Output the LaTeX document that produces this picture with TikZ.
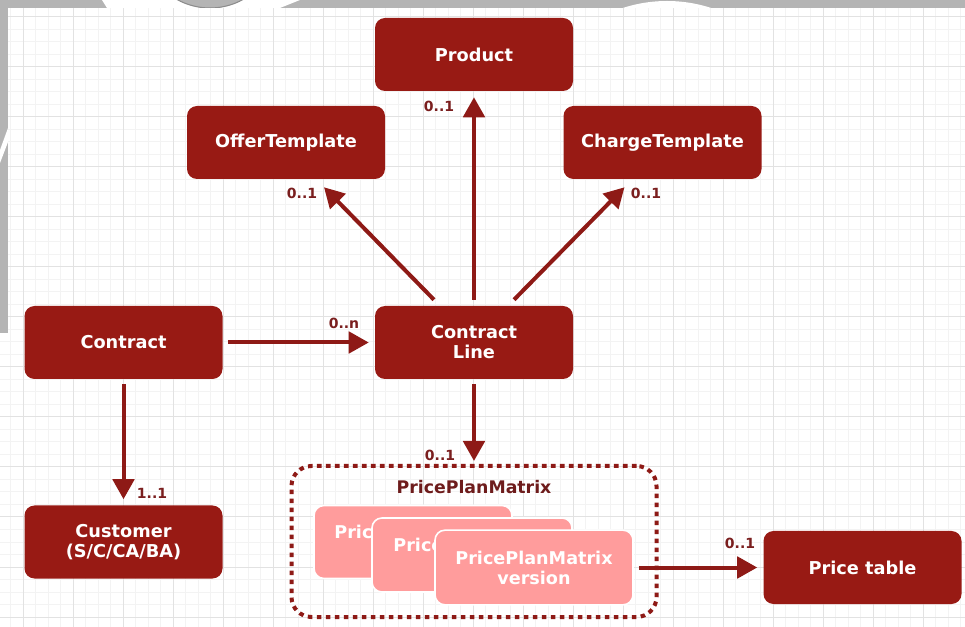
\documentclass[tikz,border=0pt]{standalone}
\usepackage{fontspec}
\setmainfont{DejaVu Sans}
\usetikzlibrary{arrows.meta,calc}
\definecolor{boxred}{HTML}{981A14}
\definecolor{arrred}{HTML}{8E1A16}
\definecolor{lblred}{HTML}{7A1E1E}
\definecolor{ppmlbl}{HTML}{6E1C1C}
\definecolor{pinkbox}{HTML}{FF9C9C}
\definecolor{gridminor}{HTML}{F3F3F3}
\definecolor{gridmajor}{HTML}{E2E2E2}
\definecolor{band}{HTML}{B4B4B4}
\definecolor{bandedge}{HTML}{8C8C8C}
\begin{document}
\begin{tikzpicture}[x=0.75pt,y=-0.75pt,
  entity/.style={fill=boxred, rounded corners=7.5pt, text=white,
    font=\bfseries\fontsize{13.3}{15}\selectfont, align=center, inner sep=0pt,
    minimum width=148.5pt, minimum height=54.75pt},
  pinkent/.style={fill=pinkbox, draw=white, line width=1.2pt, rounded corners=7.5pt, text=white,
    font=\bfseries\fontsize{13.2}{15}\selectfont, align=center, inner sep=0pt,
    minimum width=148.5pt, minimum height=54.75pt},
  arr/.style={draw=arrred, line width=3pt, -{Triangle[length=15pt,width=16pt]}},
  mult/.style={text=lblred, font=\bfseries\fontsize{10.5}{12}\selectfont, inner sep=0pt},
  container/.style={draw=arrred, line width=3pt, dash pattern=on 3.4pt off 3.35pt,
    rounded corners=15pt, minimum width=273.75pt, minimum height=113.25pt, inner sep=0pt}
]
\useasboundingbox (0,0) rectangle (965,627);
% background grid
\fill[white] (0,0) rectangle (965,627);
\foreach \k in {0,...,77} \draw[gridminor, line width=0.75pt] ({10.5+12.5*\k},0) -- ({10.5+12.5*\k},627);
\foreach \k in {0,...,50} \draw[gridminor, line width=0.75pt] (0,{4.5+12.5*\k}) -- (965,{4.5+12.5*\k});
\foreach \k in {-1,0,...,19} \draw[gridmajor, line width=0.75pt] ({23+50*\k},0) -- ({23+50*\k},627);
\foreach \k in {0,...,12} \draw[gridmajor, line width=0.75pt] (0,{17+50*\k}) -- (965,{17+50*\k});
% grey screen bands
\fill[band] (0,0) rectangle (965,8);
\fill[band] (0,0) rectangle (8,333);
\fill[white] (0,150) -- (8,128) -- (8,142) -- (0,163) -- cycle;
\begin{scope}
  \clip (0,0) rectangle (965,8);
  \fill[white] (102,0) -- (300,0) -- (280,8) -- (107,8) -- cycle;
  \filldraw[fill=band, draw=bandedge, line width=0.8pt] (210,-60) circle (68);
  \fill[white] (667,143) circle (142);
\end{scope}
% container
\node[container] (ppm) at (474,541.5) {};
\node[text=ppmlbl, font=\bfseries\fontsize{13}{15}\selectfont, inner sep=0pt] (ppmlabel) at (474,487) {PricePlanMatrix};
% pink version boxes
\node[pinkent] (b1) at (413,542) {PricePlanMatrix\\version};
\node[pinkent, minimum width=150pt, minimum height=55.5pt] (b2) at (472,555) {PricePlanMatrix\\version};
\node[pinkent, minimum height=56pt] (b3) at (534,567.5) {PricePlanMatrix\\version};
% entities
\node[entity] (prod) at (474,54.5) {Product};
\node[entity] (ot) at (286,142.5) {OfferTemplate};
\node[entity] (ct) at (662.5,142.5) {ChargeTemplate};
\node[entity] (con) at (123.5,342.5) {Contract};
\node[entity] (cl) at (474,342.5) {Contract\\Line};
\node[entity] (cus) at (123.5,542) {Customer\\(S/C/CA/BA)};
\node[entity] (pt) at (862.5,567.5) {Price table};
% connectors
\draw[arr] ($(cl.north)+(0,-6)$) -- ($(prod.south)+(0,6)$);
\draw[arr] ($(cl.north)+(-40,-6)$) -- ($(ot.south)+(38,8)$);
\draw[arr] ($(cl.north)+(40,-6)$) -- ($(ct.south)+(-38,8)$);
\draw[arr] ($(con.east)+(5,0)$) -- ($(cl.west)+(-6,0)$);
\draw[arr] ($(con.south)+(0,5)$) -- ($(cus.north)+(0,-6)$);
\draw[arr] ($(cl.south)+(0,5)$) -- ($(ppm.north)+(0,-3)$);
\draw[arr] ($(b3.east)+(5,0)$) -- ($(pt.west)+(-6,0)$);
% multiplicities
\node[mult] (m1) at (439,106) {0..1};
\node[mult] (m2) at (302,193) {0..1};
\node[mult] (m3) at (646,193) {0..1};
\node[mult] (m4) at (344,323) {0..n};
\node[mult] (m5) at (152,493) {1..1};
\node[mult] (m6) at (440,455) {0..1};
\node[mult] (m7) at (740,543) {0..1};
\end{tikzpicture}
\end{document}
